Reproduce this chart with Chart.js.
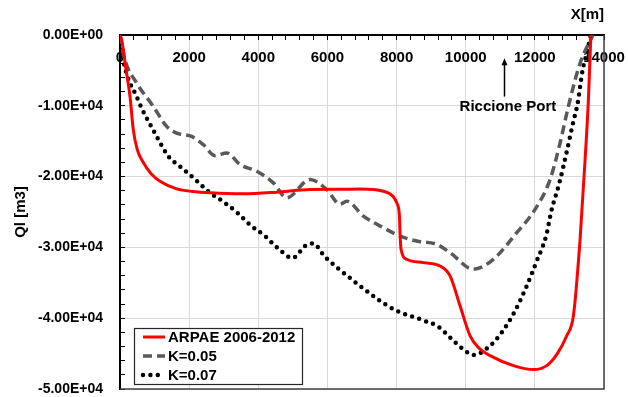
<!DOCTYPE html>
<html>
<head>
<meta charset="utf-8">
<title>Ql along the coast</title>
<script src="https://cdn.jsdelivr.net/npm/chart.js@4/dist/chart.umd.min.js"></script>
<style>
  html, body { margin: 0; padding: 0; background: #fff; }
  #wrap { width: 628px; height: 397px; }
</style>
</head>
<body>
<div id="wrap"><canvas id="chart" width="628" height="397"></canvas></div>
<script>
// ARPAE 2006-2012 survey
const arpaeX = [0, 50, 175, 290, 385, 500, 674, 900, 1157, 1640, 2100, 2604, 3560, 4533, 5497, 6365, 6943, 7618, 7900, 8004, 8083, 8100, 8130, 8293, 8776, 9258, 9547, 9836, 10126, 10400, 10705, 11380, 11958, 12344, 12650, 12922, 13115, 13308, 13453, 13549, 13620];
const arpaeY = [0, -700, -4900, -8700, -13400, -16200, -18020, -19600, -20660, -21730, -22100, -22290, -22430, -22200, -21820, -21800, -21750, -22060, -22800, -23700, -25580, -28000, -30270, -31680, -32150, -32620, -34030, -38250, -42480, -44300, -45290, -46700, -47260, -46700, -45000, -42480, -39660, -28860, -17600, -9150, 0];

// model, K=0.05
const k05X = [0, 145, 483, 964, 1350, 1640, 2073, 2411, 2748, 3087, 3472, 3954, 4436, 4822, 5497, 5979, 6365, 6558, 7040, 7618, 8100, 8583, 9162, 9547, 10222, 10800, 11476, 12006, 12440, 12730, 12970, 13308, 13680];
const k05Y = [0, -3520, -6800, -10090, -12910, -13850, -14320, -15490, -17040, -16660, -18300, -19250, -20880, -22990, -20420, -21820, -23900, -23470, -25580, -27220, -28400, -29100, -29570, -30740, -33090, -31680, -27920, -24640, -20420, -15250, -10090, -3990, 0];

// model, K=0.07
const k07X = [0, 116, 309, 434, 646, 888, 1128, 1398, 1765, 2199, 2575, 2990, 3394, 3780, 4195, 4580, 4996, 5352, 5575, 5931, 6316, 6943, 7522, 8004, 8728, 9208, 9596, 9981, 10222, 10655, 11042, 11428, 11765, 12054, 12324, 12488, 12682, 12826, 12999, 13115, 13230, 13385, 13501, 13620];
const k07Y = [0, -3990, -7040, -8210, -10560, -12770, -14930, -17130, -18680, -20510, -22200, -23560, -25110, -26890, -28400, -30180, -31500, -29810, -29430, -31350, -32990, -35440, -37550, -38960, -40230, -41210, -42950, -44590, -45200, -44110, -42000, -38960, -35440, -31920, -28400, -24640, -21360, -18540, -14780, -12200, -9860, -4830, -2580, 0];

const seriesNames = ['ARPAE 2006-2012', 'K=0.05', 'K=0.07'];

// harbour marker
const portLabel = 'Riccione Port';
const portX = 11100;

const FONT = 'Liberation Sans, Arial, sans-serif';

function pts(xs, ys) {
  return xs.map((x, i) => ({ x: x, y: ys[i] }));
}

function sci(v) {
  if (v === 0) return '0.00E+00';
  const e = Math.floor(Math.log10(Math.abs(v)) + 1e-9);
  const m = v / Math.pow(10, e);
  return m.toFixed(2) + 'E' + (e < 0 ? '-' : '+') + String(Math.abs(e)).padStart(2, '0');
}

// legend box in the lower left corner of the plot
const boxLegend = {
  id: 'boxLegend',
  afterDraw(chart) {
    const ctx = chart.ctx;
    const a = chart.chartArea;
    const bx = a.left + 14, by = a.bottom - 61, bw = 168, bh = 56;
    ctx.save();
    ctx.fillStyle = '#fff';
    ctx.fillRect(bx, by, bw, bh);
    ctx.strokeStyle = '#262626';
    ctx.lineWidth = 1.2;
    ctx.strokeRect(bx + 0.5, by + 0.5, bw, bh);
    chart.data.datasets.forEach((ds, i) => {
      const y = by + 9 + i * 19;
      ctx.beginPath();
      ctx.strokeStyle = ds.borderColor;
      ctx.lineWidth = ds.borderWidth;
      ctx.lineCap = ds.borderCapStyle || 'butt';
      ctx.setLineDash(ds.borderDash || []);
      ctx.moveTo(bx + 9, y);
      ctx.lineTo(bx + 31, y);
      ctx.stroke();
      ctx.setLineDash([]);
      ctx.fillStyle = '#000';
      ctx.font = 'bold 15px ' + FONT;
      ctx.textBaseline = 'middle';
      ctx.textAlign = 'left';
      ctx.fillText(ds.label, bx + 34, y + 1);
    });
    ctx.restore();
  }
};

// right and bottom frame, harbour arrow
const frameAndPort = {
  id: 'frameAndPort',
  afterDraw(chart) {
    const ctx = chart.ctx;
    const a = chart.chartArea;
    const xs = chart.scales.x, ys = chart.scales.y;
    ctx.save();
    ctx.strokeStyle = '#404040';
    ctx.lineWidth = 1.5;
    ctx.beginPath();
    ctx.moveTo(a.left, a.bottom);
    ctx.lineTo(a.right, a.bottom);
    ctx.lineTo(a.right, a.top);
    ctx.stroke();

    const px = Math.round(xs.getPixelForValue(portX)) + 0.5;
    const tip = ys.getPixelForValue(-3300);
    const tail = ys.getPixelForValue(-8700);
    ctx.strokeStyle = '#000';
    ctx.lineWidth = 1.5;
    ctx.beginPath();
    ctx.moveTo(px, tail);
    ctx.lineTo(px, tip + 5);
    ctx.stroke();
    ctx.fillStyle = '#000';
    ctx.beginPath();
    ctx.moveTo(px, tip);
    ctx.lineTo(px - 3, tip + 7);
    ctx.lineTo(px + 3, tip + 7);
    ctx.closePath();
    ctx.fill();

    ctx.font = 'bold 15px ' + FONT;
    ctx.textAlign = 'center';
    ctx.textBaseline = 'middle';
    ctx.fillText(portLabel, xs.getPixelForValue(portX + 120), ys.getPixelForValue(-10200));
    ctx.restore();
  }
};

document.addEventListener('DOMContentLoaded', function(){
  const tickFont = { family: FONT, size: 15, weight: 'bold' };

  new Chart(document.getElementById('chart'), {
    type: 'line',
    data: {
      datasets: [
        { label: seriesNames[0], data: pts(arpaeX, arpaeY), borderColor: '#ff0000', borderWidth: 3,
          cubicInterpolationMode: 'monotone', pointRadius: 0 },
        { label: seriesNames[1], data: pts(k05X, k05Y), borderColor: '#595959', borderWidth: 3.5,
          borderDash: [9, 5], cubicInterpolationMode: 'monotone', pointRadius: 0 },
        { label: seriesNames[2], data: pts(k07X, k07Y), borderColor: '#000000', borderWidth: 4.5,
          borderDash: [0, 7.4], borderCapStyle: 'round', cubicInterpolationMode: 'monotone', pointRadius: 0 }
      ]
    },
    options: {
      responsive: false,
      devicePixelRatio: 1,
      animation: false,
      layout: { autoPadding: false, padding: { left: 0, right: 24, top: 0, bottom: 8 } },
      plugins: { legend: { display: false }, tooltip: { enabled: false } },
      scales: {
        x: {
          type: 'linear',
          position: 'top',
          min: 0, max: 14000,
          ticks: {
            stepSize: 400, autoSkip: false, maxRotation: 0, mirror: true, padding: 14,
            color: '#000', font: tickFont,
            callback: v => (v % 2000 === 0 ? String(v) : '')
          },
          grid: {
            color: c => (c.tick && c.tick.value % 2000 === 0 ? '#d9d9d9' : 'rgba(0,0,0,0)'),
            tickColor: '#000', tickLength: -5, lineWidth: 1
          },
          border: { color: '#000', width: 2 },
          title: { display: true, text: 'X[m]', align: 'end', color: '#000', font: tickFont, padding: { top: 6, bottom: 0 } },
          afterFit: s => { s.height = 35; s.paddingLeft = 0; s.paddingRight = 0; }
        },
        y: {
          type: 'linear',
          position: 'left',
          min: -50000, max: 0,
          ticks: {
            stepSize: 2000, autoSkip: false, padding: 22,
            color: '#000', font: { family: FONT, size: 14, weight: 'bold' },
            callback: v => (v % 10000 === 0 ? sci(v) : '')
          },
          grid: {
            color: c => (c.tick && c.tick.value % 10000 === 0 ? '#d9d9d9' : 'rgba(0,0,0,0)'),
            tickColor: '#000', tickLength: -5, lineWidth: 1
          },
          border: { color: '#000', width: 2 },
          title: { display: true, text: 'Ql [m3]', color: '#000', font: tickFont, padding: { top: 12, bottom: 0 } },
          afterFit: s => { s.width = 120; s.paddingTop = 0; s.paddingBottom = 0; }
        }
      }
    },
    plugins: [boxLegend, frameAndPort]
  });
});
</script>
</body>
</html>
